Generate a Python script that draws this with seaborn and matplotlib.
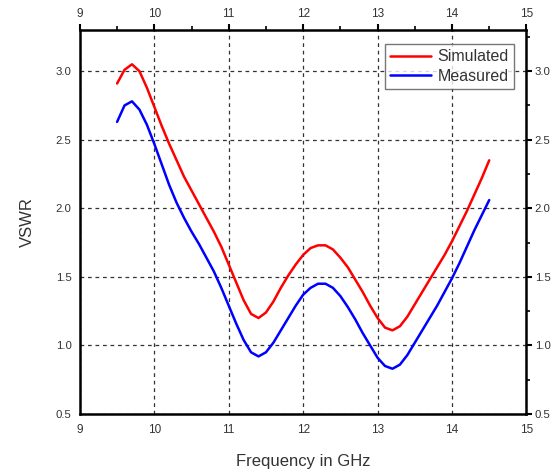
import numpy as np
import pandas as pd
import matplotlib
matplotlib.use("Agg")
import matplotlib.pyplot as plt
import seaborn as sns
from matplotlib.ticker import MultipleLocator

freq = [9.5, 9.6, 9.7, 9.8, 9.9, 10.0, 10.1, 10.2, 10.3, 10.4, 10.5, 10.6, 10.7, 10.8, 10.9,
        11.0, 11.1, 11.2, 11.3, 11.4, 11.5, 11.6, 11.7, 11.8, 11.9, 12.0, 12.1, 12.2, 12.3,
        12.4, 12.5, 12.6, 12.7, 12.8, 12.9, 13.0, 13.1, 13.2, 13.3, 13.4, 13.5, 13.6, 13.7,
        13.8, 13.9, 14.0, 14.1, 14.2, 14.3, 14.4, 14.5]
simulated = [2.91, 3.01, 3.05, 3.00, 2.88, 2.74, 2.60, 2.47, 2.35, 2.23, 2.13, 2.03, 1.93, 1.83,
             1.72, 1.59, 1.46, 1.33, 1.23, 1.20, 1.24, 1.32, 1.42, 1.51, 1.59, 1.66, 1.71, 1.73,
             1.73, 1.70, 1.64, 1.57, 1.48, 1.39, 1.29, 1.20, 1.13, 1.11, 1.14, 1.21, 1.30, 1.39,
             1.48, 1.57, 1.66, 1.76, 1.87, 1.98, 2.10, 2.22, 2.35]
measured = [2.63, 2.75, 2.78, 2.72, 2.61, 2.47, 2.32, 2.17, 2.04, 1.93, 1.83, 1.74, 1.64, 1.54,
            1.42, 1.29, 1.16, 1.04, 0.95, 0.92, 0.95, 1.02, 1.11, 1.20, 1.29, 1.37, 1.42, 1.45,
            1.45, 1.42, 1.36, 1.28, 1.19, 1.09, 1.00, 0.91, 0.85, 0.83, 0.86, 0.93, 1.02, 1.11,
            1.20, 1.29, 1.39, 1.49, 1.60, 1.72, 1.84, 1.95, 2.06]
series_names = ["Simulated", "Measured"]
x_ticks = [9, 10, 11, 12, 13, 14, 15]
y_ticks = [0.5, 1.0, 1.5, 2.0, 2.5, 3.0]

df = pd.DataFrame({
    "freq": freq * 2,
    "vswr": simulated + measured,
    "series": [series_names[0]] * len(freq) + [series_names[1]] * len(freq),
})

sns.set_style("white")
plt.rcParams["font.family"] = ["Liberation Sans", "DejaVu Sans"]
txt = "#333333"

fig = plt.figure(figsize=(5.52, 4.75), dpi=100)
ax = fig.add_axes([0.1447, 0.1284, 0.8090, 0.8084])

sns.lineplot(data=df, x="freq", y="vswr", hue="series", palette=["#ff0000", "#0000ff"],
             linewidth=1.8, ax=ax, legend=True)
for ln in ax.get_lines():
    ln.set_solid_joinstyle("round")
    ln.set_solid_capstyle("round")

ax.set_xlim(9, 15)
ax.set_ylim(0.5, 3.3)
ax.set_xticks(x_ticks)
ax.set_yticks(y_ticks)
ax.set_xticklabels([str(t) for t in x_ticks])
ax.set_yticklabels([f"{t:.1f}" for t in y_ticks])
ax.xaxis.set_minor_locator(MultipleLocator(0.5))
ax.yaxis.set_minor_locator(MultipleLocator(0.25))

ax.tick_params(which="both", direction="out", top=True, right=True,
               labeltop=True, labelright=True, colors="black", labelcolor=txt,
               labelsize=8.5, pad=2.5)
ax.tick_params(axis="y", which="both", labelsize=8.2, pad=1.5)
ax.tick_params(which="major", length=4.5, width=1.5)
ax.tick_params(which="minor", length=3, width=1.2)
for s in ax.spines.values():
    s.set_linewidth(1.8)
    s.set_color("black")
    s.set_visible(True)

ax.grid(True, which="major", color="#333333", linestyle=(0, (3, 3)), linewidth=0.9)

ax.set_xlabel("Frequency in GHz", fontsize=12, color=txt, labelpad=13)
ax.set_ylabel("VSWR", fontsize=12, color=txt, labelpad=15)

leg = ax.legend(loc="upper right", bbox_to_anchor=(0.982, 0.975), frameon=True,
                fancybox=False, edgecolor="#555555", fontsize=11.5, handlelength=2.6,
                borderpad=0.3, labelspacing=0.3, handletextpad=0.4, borderaxespad=0.3)
leg.get_frame().set_linewidth(1.0)
for t in leg.get_texts():
    t.set_color(txt)

fig.savefig("out.png", dpi=100)
